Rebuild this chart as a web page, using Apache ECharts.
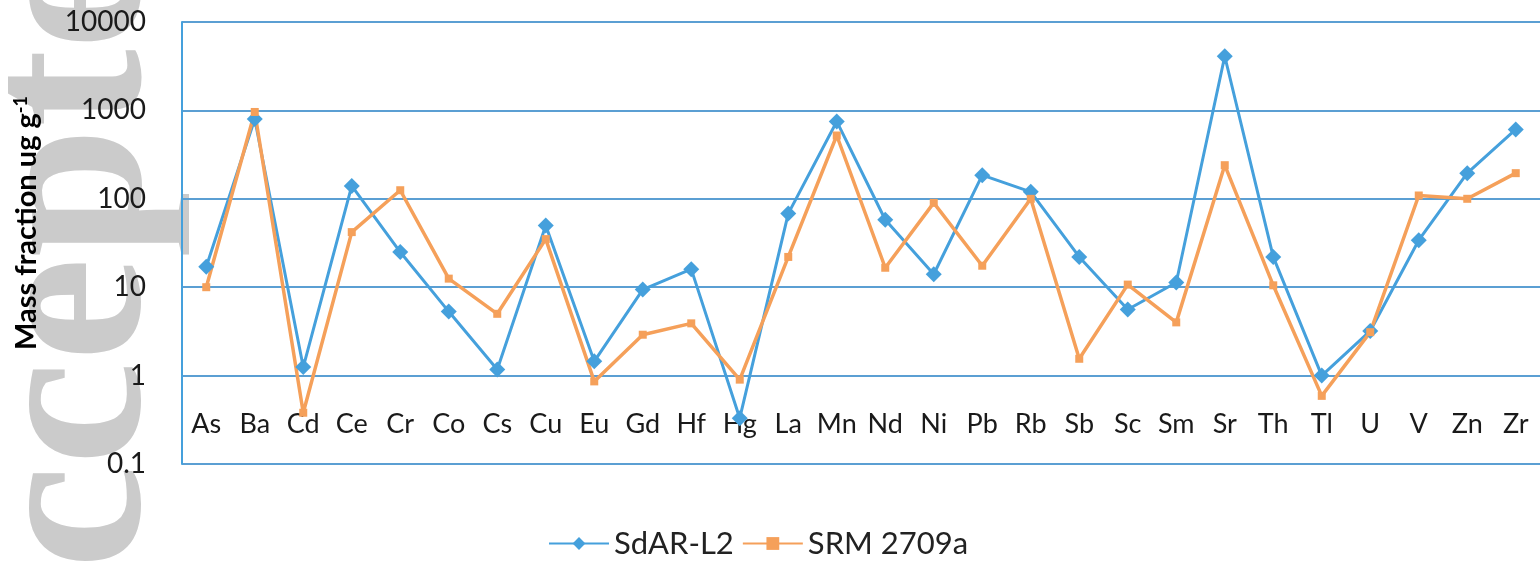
<!DOCTYPE html>
<html>
<head>
<meta charset="utf-8">
<script src="https://cdn.jsdelivr.net/npm/echarts@6/dist/echarts.min.js"></script>
<style>
  html, body { margin: 0; padding: 0; background: #fff; }
  #chart { width: 1540px; height: 565px; }
</style>
</head>
<body>
<div id="chart"></div>
<script>
var elements = ['As', 'Ba', 'Cd', 'Ce', 'Cr', 'Co', 'Cs', 'Cu', 'Eu', 'Gd', 'Hf', 'Hg', 'La', 'Mn',
    'Nd', 'Ni', 'Pb', 'Rb', 'Sb', 'Sc', 'Sm', 'Sr', 'Th', 'Tl', 'U', 'V', 'Zn', 'Zr'];

// SdAR-L2
var sdar = [17, 800, 1.25, 140, 25, 5.3, 1.17, 50, 1.45, 9.4, 16, 0.33, 68, 750,
    58, 14, 185, 120, 22, 5.6, 11.3, 4100, 22, 1.0, 3.2, 34, 195, 610];

// SRM 2709a
var srm = [10, 960, 0.38, 42, 125, 12.5, 5.0, 35, 0.86, 2.9, 3.9, 0.9, 22, 520,
    16.6, 90, 17.5, 100, 1.55, 10.7, 4.0, 240, 10.5, 0.59, 3.1, 109, 100, 195];

var blue = '#45a0dc';
var orange = '#f5a05a';
var font = 'Lato, "Open Sans", sans-serif';

var myChart = echarts.init(document.getElementById('chart'));

option = {
    backgroundColor: '#fff',
    animation: false,
    graphic: [{
        type: 'text',
        rotation: Math.PI / 2,
        x: -38,
        y: 738,
        z: -10,
        style: {
            text: 'Accepted',
            font: 'bold 234px "Liberation Serif", serif',
            fill: '#cbcbcb',
            verticalAlign: 'top'
        }
    }],
    grid: {
        left: 182,
        right: -4,
        top: 22,
        bottom: 101
    },
    legend: {
        bottom: 1,
        left: 543,
        itemWidth: 60,
        itemHeight: 16,
        itemGap: 8,
        textStyle: {
            fontFamily: font,
            fontSize: 31,
            color: '#222'
        },
        data: ['SdAR-L2', 'SRM 2709a']
    },
    xAxis: {
        type: 'category',
        data: elements,
        axisLine: { show: false },
        axisTick: { show: false },
        axisLabel: {
            margin: -53,
            fontFamily: font,
            fontSize: 27,
            color: '#1a1a1a',
            interval: 0
        }
    },
    yAxis: {
        type: 'log',
        logBase: 10,
        min: 0.1,
        max: 10000,
        name: 'Mass fraction ug g{sup|-1}',
        nameLocation: 'middle',
        nameGap: 140,
        nameTextStyle: {
            fontFamily: font,
            fontSize: 29,
            fontWeight: 'bold',
            color: '#000',
            padding: [0, 0, 0, 40],
            rich: {
                sup: {
                    fontFamily: font,
                    fontSize: 18,
                    fontWeight: 'bold',
                    verticalAlign: 'top',
                    padding: [0, 0, 12, 0]
                }
            }
        },
        axisLine: { show: true, lineStyle: { color: blue, width: 2 } },
        axisTick: { show: false },
        axisLabel: {
            margin: 36,
            fontFamily: font,
            fontSize: 28,
            color: '#1a1a1a',
            formatter: function (v) { return String(v); }
        },
        splitLine: {
            show: true,
            lineStyle: { color: '#5b9fd3', width: 2 }
        }
    },
    series: [{
        name: 'SdAR-L2',
        type: 'line',
        data: sdar,
        symbol: 'diamond',
        symbolSize: 16,
        lineStyle: { color: blue, width: 3 },
        itemStyle: { color: blue }
    }, {
        name: 'SRM 2709a',
        type: 'line',
        data: srm,
        symbol: 'rect',
        symbolSize: 8,
        lineStyle: { color: orange, width: 3.5 },
        itemStyle: { color: orange }
    }]
};

myChart.setOption(option);
</script>
</body>
</html>
